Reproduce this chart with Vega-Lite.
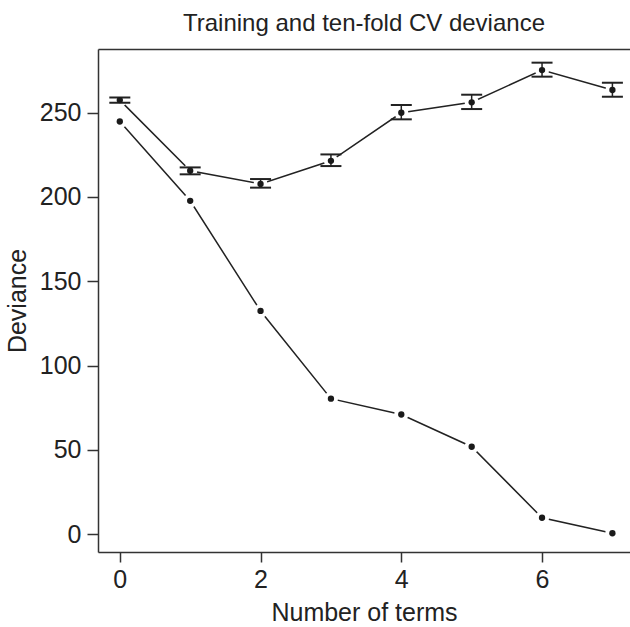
{
  "$schema": "https://vega.github.io/schema/vega-lite/v6.json",
  "autosize": {"type": "none"},
  "padding": {"left": 98, "top": 49, "right": 0, "bottom": 75},
  "width": 532,
  "height": 503,
  "background": "white",
  "title": {
    "text": "Training and ten-fold CV deviance",
    "fontSize": 24,
    "fontWeight": "normal",
    "font": "Liberation Sans",
    "color": "#222222",
    "anchor": "middle",
    "offset": 13
  },
  "data": {
    "values": [
      {"terms": 0, "train": 244.7, "cv": 257.4, "lo": 255.8, "hi": 259.0},
      {"terms": 1, "train": 197.7, "cv": 215.5, "lo": 213.4, "hi": 217.5},
      {"terms": 2, "train": 132.4, "cv": 207.7, "lo": 205.5, "hi": 210.6},
      {"terms": 3, "train": 80.4, "cv": 221.4, "lo": 218.3, "hi": 225.2},
      {"terms": 4, "train": 71.0, "cv": 249.9, "lo": 246.0, "hi": 254.5},
      {"terms": 5, "train": 51.9, "cv": 256.1, "lo": 252.1, "hi": 260.6},
      {"terms": 6, "train": 9.8, "cv": 275.2, "lo": 271.3, "hi": 279.6},
      {"terms": 7, "train": 0.6, "cv": 263.4, "lo": 259.4, "hi": 267.7}
    ]
  },
  "config": {
    "view": {"stroke": null},
    "font": "Liberation Sans",
    "axis": {
      "grid": false,
      "domainColor": "#333333",
      "domainWidth": 1.5,
      "tickColor": "#333333",
      "tickWidth": 1.5,
      "tickSize": 10,
      "labelFont": "Liberation Sans",
      "labelFontSize": 25,
      "labelColor": "#222222",
      "titleFont": "Liberation Sans",
      "titleFontSize": 25,
      "titleFontWeight": "normal",
      "titleColor": "#222222"
    }
  },
  "resolve": {"axis": {"x": "independent"}},
  "layer": [
    {
      "mark": {"type": "line", "color": "#222222", "strokeWidth": 1.5},
      "encoding": {
        "x": {"field": "terms", "type": "quantitative", "scale": {"domain": [-0.31, 7.25], "nice": false, "zero": false},
              "axis": {"orient": "bottom", "values": [0, 2, 4, 6], "title": "Number of terms", "labelPadding": 5, "titlePadding": 8, "labelFlush": false}},
        "y": {"field": "train", "type": "quantitative", "scale": {"domain": [-10.5, 287.7], "nice": false, "zero": false},
              "axis": {"values": [0, 50, 100, 150, 200, 250], "title": "Deviance", "labelPadding": 6, "tickSize": 11, "titlePadding": 9, "labelFlush": false}}
      }
    },
    {
      "mark": {"type": "line", "color": "#222222", "strokeWidth": 1.5},
      "encoding": {
        "x": {"field": "terms", "type": "quantitative", "axis": null},
        "y": {"field": "cv", "type": "quantitative", "title": "Deviance"}
      }
    },
    {
      "mark": {"type": "circle", "color": "white", "opacity": 1, "size": 200},
      "encoding": {
        "x": {"field": "terms", "type": "quantitative", "axis": {"orient": "top", "labels": false, "ticks": false, "title": null, "domain": true}},
        "y": {"field": "train", "type": "quantitative", "title": "Deviance"}
      }
    },
    {
      "mark": {"type": "circle", "color": "white", "opacity": 1, "size": 200},
      "encoding": {
        "x": {"field": "terms", "type": "quantitative", "axis": null},
        "y": {"field": "cv", "type": "quantitative", "title": "Deviance"}
      }
    },
    {
      "mark": {"type": "rule", "color": "#222222", "strokeWidth": 1.5},
      "encoding": {
        "x": {"field": "terms", "type": "quantitative", "axis": null},
        "y": {"field": "lo", "type": "quantitative", "title": "Deviance"},
        "y2": {"field": "hi"}
      }
    },
    {
      "mark": {"type": "tick", "color": "#222222", "orient": "horizontal", "size": 21, "thickness": 2, "opacity": 1},
      "encoding": {
        "x": {"field": "terms", "type": "quantitative", "axis": null},
        "y": {"field": "lo", "type": "quantitative", "title": "Deviance"}
      }
    },
    {
      "mark": {"type": "tick", "color": "#222222", "orient": "horizontal", "size": 21, "thickness": 2, "opacity": 1},
      "encoding": {
        "x": {"field": "terms", "type": "quantitative", "axis": null},
        "y": {"field": "hi", "type": "quantitative", "title": "Deviance"}
      }
    },
    {
      "mark": {"type": "circle", "color": "#1a1a1a", "opacity": 1, "size": 40},
      "encoding": {
        "x": {"field": "terms", "type": "quantitative", "axis": null},
        "y": {"field": "train", "type": "quantitative", "title": "Deviance"}
      }
    },
    {
      "mark": {"type": "circle", "color": "#1a1a1a", "opacity": 1, "size": 40},
      "encoding": {
        "x": {"field": "terms", "type": "quantitative", "axis": null},
        "y": {"field": "cv", "type": "quantitative", "title": "Deviance"}
      }
    }
  ]
}
